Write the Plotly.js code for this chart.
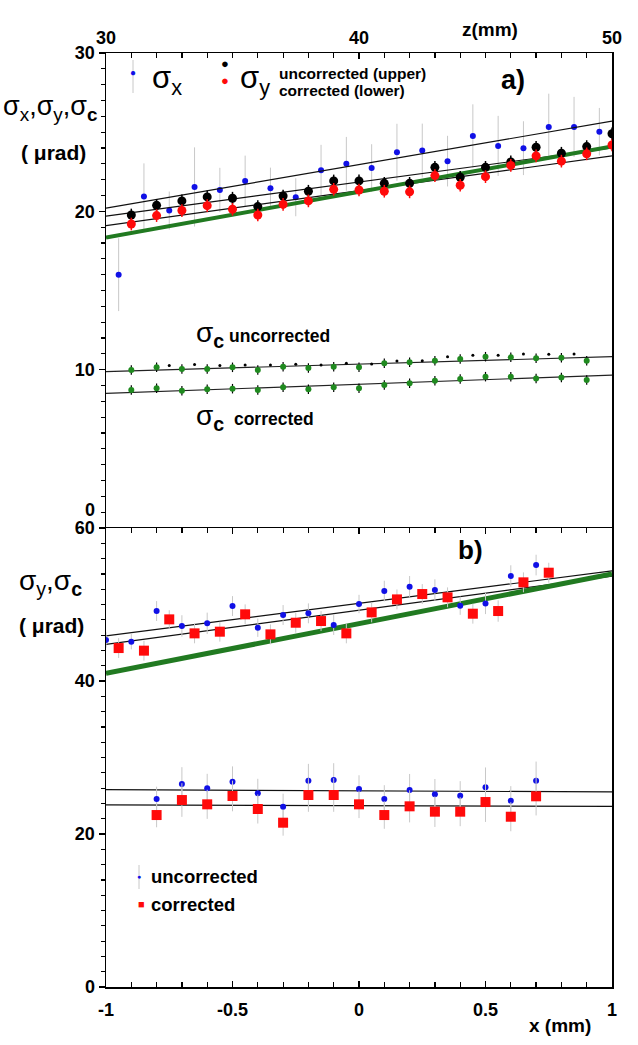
<!DOCTYPE html>
<html>
<head>
<meta charset="utf-8">
<script src="https://cdn.plot.ly/plotly-3.0.1.min.js"></script>
<style>html,body{margin:0;padding:0;background:#fff;}#chart{width:638px;height:1045px;}</style>
</head>
<body>
<div id="chart"></div>
<script>
// ---------- Panel a) : versus z (mm) ----------
const zSigmaX = [30.5,31.5,32.5,33.5,34.5,35.5,36.5,37.5,38.5,39.5,40.5,41.5,42.5,43.5,44.5,45.5,46.5,47.5,48.5,49.5];
const sigmaX = [16.0,20.93,20.05,21.54,21.35,21.92,21.46,20.89,22.6,23.0,22.74,23.73,23.84,23.17,24.76,24.13,23.99,25.33,25.33,25.03];
const sigmaXErr = [2.3,2.1,1.2,2.5,1.4,1.6,1.3,1.2,1.6,1.7,1.5,1.8,1.7,1.6,2.0,1.9,1.7,2.1,1.9,1.5];

const zSigmaY = [31,32,33,34,35,36,37,38,39,40,41,42,43,44,45,46,47,48,49,50];
const sigmaYUnc = [19.77,20.38,20.66,20.91,20.83,20.3,20.97,21.27,21.92,21.92,21.77,21.77,22.78,22.15,22.78,23.12,24.05,23.67,24.09,24.9];
const sigmaYCor = [19.2,19.73,20.05,20.36,20.13,19.77,20.44,20.66,21.39,21.35,21.27,21.23,22.26,21.65,22.19,22.9,23.5,23.17,23.63,24.19];
const sigmaYErr = [0.4,0.4,0.4,0.4,0.4,0.4,0.4,0.4,0.4,0.4,0.4,0.4,0.4,0.4,0.4,0.4,0.4,0.4,0.4,0.4];

const zSigmaC = [31,32,33,34,35,36,37,38,39,40,41,42,43,44,45,46,47,48,49];
const sigmaCUnc = [9.98,10.15,10.04,10.04,10.15,9.98,10.19,10.1,10.19,10.15,10.4,10.47,10.57,10.68,10.82,10.78,10.72,10.76,10.57];
const sigmaCCor = [8.72,8.82,8.67,8.76,8.8,8.72,8.89,8.76,8.89,8.82,9.03,9.14,9.3,9.41,9.56,9.56,9.45,9.5,9.35];
const sigmaCErr = [0.3,0.3,0.3,0.3,0.3,0.3,0.3,0.3,0.3,0.3,0.3,0.3,0.3,0.3,0.3,0.3,0.3,0.3,0.3];
const zDots = [32.5,33.5,34.5,35.5,36.5,37.5,38.5,39.5,40.5,41.5,42.5,43.5,44.5,45.5,46.5,47.5,48.5];
const sigmaCDots = [10.26,10.32,10.26,10.3,10.3,10.34,10.3,10.4,10.36,10.55,10.57,10.82,10.91,10.91,10.99,10.97,10.99];

const zFit = [30,50];
const fitSigmaX = [20.2,25.7];
const fitSigmaYUnc = [19.7,24.0];
const fitSigmaYCor = [19.1,23.5];
const fitGreenA = [18.35,24.1];
const fitSigmaCUnc = [9.88,10.82];
const fitSigmaCCor = [8.5,9.66];

// ---------- Panel b) : versus x (mm) ----------
const xUnc = [-1.0,-0.9,-0.8,-0.7,-0.6,-0.5,-0.4,-0.3,-0.2,-0.1,0,0.1,0.2,0.3,0.4,0.5,0.6,0.7];
const sigmaYUncB = [45.36,45.14,49.15,47.2,47.54,49.8,46.97,48.63,48.85,47.32,50.07,51.76,52.33,51.9,49.85,50.15,53.73,55.16];
const sigmaYUncBErr = [1.0,1.0,1.3,1.4,1.4,1.3,1.2,1.3,1.3,1.3,1.2,1.35,1.4,1.4,1.2,1.4,1.4,1.35];
const xCor = [-0.95,-0.85,-0.75,-0.65,-0.55,-0.45,-0.35,-0.25,-0.15,-0.05,0.05,0.15,0.25,0.35,0.45,0.55,0.65,0.75];
const sigmaYCorB = [44.31,43.97,48.06,46.23,46.45,48.72,46.1,47.62,47.84,46.23,48.97,50.67,51.37,50.94,48.8,49.15,52.9,54.16];
const sigmaYCorBErr = [1.3,1.3,1.2,1.3,1.3,1.3,1.3,1.3,1.3,1.3,1.3,1.3,1.3,1.3,1.3,1.4,1.3,1.3];

const xC = [-0.8,-0.7,-0.6,-0.5,-0.4,-0.3,-0.2,-0.1,0,0.1,0.2,0.3,0.4,0.5,0.6,0.7];
const sigmaCUncB = [24.58,26.54,25.97,26.84,25.32,23.57,26.97,27.06,25.88,24.58,25.75,25.19,25.01,26.1,24.36,26.97];
const sigmaCCorB = [22.48,24.44,23.88,24.97,23.27,21.48,25.1,25.1,23.88,22.48,23.62,22.92,22.92,24.18,22.26,24.93];
const sigmaCBErr = [1.6,2.2,1.9,2.0,1.9,1.7,2.2,2.2,1.8,1.8,2.1,2.0,1.9,2.6,1.9,2.5];

const xFit = [-1,1];
const fitYUncB = [45.9,54.4];
const fitYCorB = [44.8,53.7];
const fitGreenB = [41.0,54.0];
const fitCUncB = [25.8,25.5];
const fitCCorB = [23.8,23.6];

const xTickVals = [-1,-0.5,0,0.5,1];
const xTickText = ['-1','-0.5','0','0.5','1'];
const zTickVals = [30,40,50];
const yTopTickVals = [10,20,30];

// ---------- styles ----------
const FONT = 'Liberation Sans, Arial, sans-serif';
const BLUE = '#1010e6', RED = '#ff0a0a', GREEN = '#1f8a1f', DKGREEN = '#217a21', GRAY = '#c8c8c8';

function line(x, y, xa, ya, color, width) {
  return {x, y, xaxis: xa, yaxis: ya, mode: 'lines', type: 'scatter',
          line: {color, width}, hoverinfo: 'skip'};
}
function pts(x, y, err, xa, ya, color, size, symbol, errColor, errThick) {
  const t = {x, y, xaxis: xa, yaxis: ya, mode: 'markers', type: 'scatter',
             marker: {color, size, symbol: symbol || 'circle', line: {width: 0}}};
  if (err) t.error_y = {type: 'data', array: err, visible: true, color: errColor, thickness: errThick || 1, width: 0};
  return t;
}

const traces = [
  pts(zSigmaX, sigmaX, sigmaXErr, 'x2', 'y2', BLUE, 6, 'circle', GRAY, 1),
  line(zFit, fitSigmaX, 'x2', 'y2', '#111', 1.2),
  line(zFit, fitSigmaYUnc, 'x2', 'y2', '#111', 1.2),
  line(zFit, fitSigmaYCor, 'x2', 'y2', '#111', 1.2),
  line(zFit, fitGreenA, 'x2', 'y2', DKGREEN, 4),
  pts(zSigmaY, sigmaYUnc, sigmaYErr, 'x2', 'y2', '#000', 9, 'circle', '#000', 1.5),
  pts(zSigmaY, sigmaYCor, sigmaYErr, 'x2', 'y2', RED, 9, 'circle', RED, 1.5),
  line(zFit, fitSigmaCUnc, 'x2', 'y2', '#222', 1.2),
  line(zFit, fitSigmaCCor, 'x2', 'y2', '#222', 1.2),
  pts(zDots, sigmaCDots, null, 'x2', 'y2', '#000', 3),
  pts(zSigmaC, sigmaCUnc, sigmaCErr, 'x2', 'y2', GREEN, 6, 'circle', '#000', 1.2),
  pts(zSigmaC, sigmaCCor, sigmaCErr, 'x2', 'y2', GREEN, 6, 'circle', '#000', 1.2),
  line(xFit, fitYUncB, 'x', 'y', '#111', 1.2),
  line(xFit, fitYCorB, 'x', 'y', '#111', 1.2),
  line(xFit, fitGreenB, 'x', 'y', DKGREEN, 5),
  line(xFit, fitCUncB, 'x', 'y', '#111', 1.2),
  line(xFit, fitCCorB, 'x', 'y', '#111', 1.2),
  pts(xUnc, sigmaYUncB, sigmaYUncBErr, 'x', 'y', BLUE, 6, 'circle', GRAY, 1),
  pts(xCor, sigmaYCorB, sigmaYCorBErr, 'x', 'y', RED, 10, 'square', GRAY, 1),
  pts(xC, sigmaCUncB, sigmaCBErr, 'x', 'y', BLUE, 6, 'circle', GRAY, 1),
  pts(xC, sigmaCCorB, sigmaCBErr, 'x', 'y', RED, 10, 'square', GRAY, 1)
];

const tickFont = {family: FONT, size: 18, color: '#000', weight: 'bold'};
const axLine = {showline: true, linecolor: '#000', linewidth: 1.5, showgrid: false, zeroline: false};

const PLOT_L = 106, PLOT_W = 506, PLOT_T = 53, PLOT_H = 934;
function px(v) { return (v - PLOT_L) / PLOT_W; }
function py(v) { return (PLOT_T + PLOT_H - v) / PLOT_H; }

function ann(xp, yp, text, size, opts) {
  return Object.assign({xref: 'paper', yref: 'paper', x: px(xp), y: py(yp), text, showarrow: false,
    xanchor: 'left', yanchor: 'middle', font: {family: FONT, size, color: '#000'}}, opts || {});
}
const B = s => '<b>' + s + '</b>';
const SIG = (sub, s) => '<span style="font-size:' + s + 'px">σ<sub>' + sub + '</sub></span>';

const annotations = [
  ann(133, 72, '●', 10, {xanchor: 'center', font: {family: FONT, size: 10, color: BLUE}}),
  ann(150, 80, 'σ<sub>x</sub>', 31),
  ann(225, 64, '●', 13, {xanchor: 'center', font: {family: FONT, size: 13, color: '#000'}}),
  ann(225, 80, '●', 13, {xanchor: 'center', font: {family: FONT, size: 13, color: RED}}),
  ann(238, 80, 'σ<sub>y</sub>', 31),
  ann(277, 73, B('uncorrected (upper)'), 15.5),
  ann(277, 91, B('corrected (lower)'), 15.5),
  ann(513, 80, B('a)'), 27, {xanchor: 'center'}),
  ann(194, 334, SIG('<b>c</b>', 28) + ' ' + B('uncorrected'), 17.5),
  ann(194, 418, SIG('<b>c</b>', 28) + '  ' + B('corrected'), 17.5),
  ann(470, 550, B('b)'), 26, {xanchor: 'center'}),
  ann(139, 876, '●', 7, {xanchor: 'center', font: {family: FONT, size: 7, color: BLUE}}),
  ann(149, 876, B('uncorrected'), 18.5),
  ann(141, 904, '■', 11, {xanchor: 'center', font: {family: FONT, size: 11, color: RED}}),
  ann(149, 904, B('corrected'), 18.5),
  ann(50, 108, 'σ<sub>x</sub>,σ<sub>y</sub>,σ<sub><b>c</b></sub>', 27, {xanchor: 'center'}),
  ann(53, 152, B('( μrad)'), 21, {xanchor: 'center'}),
  ann(50, 582, 'σ<sub>y</sub>,σ<sub><b>c</b></sub>', 28, {xanchor: 'center'}),
  ann(51, 625, B('( μrad)'), 21, {xanchor: 'center'}),
  ann(490, 29, B('z(mm)'), 19, {xanchor: 'center'}),
  ann(560, 1025, B('x (mm)'), 19, {xanchor: 'center'}),
  {xref: 'paper', yref: 'y2', x: 0, y: 0, xanchor: 'right', yanchor: 'middle', xshift: -9, yshift: 18,
   text: B('0'), showarrow: false, font: tickFont}
];

const shapes = [
  {type: 'line', xref: 'paper', yref: 'paper', x0: px(133), x1: px(133), y0: py(60), y1: py(93), line: {color: GRAY, width: 1}, layer: 'below'},
  {type: 'line', xref: 'paper', yref: 'paper', x0: px(139), x1: px(139), y0: py(865), y1: py(889), line: {color: GRAY, width: 1}, layer: 'below'}
];

const layout = {
  width: 638, height: 1045,
  margin: {l: PLOT_L, r: 638 - PLOT_L - PLOT_W, t: PLOT_T, b: 1045 - PLOT_T - PLOT_H, pad: 0},
  paper_bgcolor: '#fff', plot_bgcolor: '#fff',
  showlegend: false,
  font: {family: FONT, color: '#000'},
  xaxis: Object.assign({}, axLine, {
    domain: [0, 1], anchor: 'y', range: [-1, 1], tickvals: xTickVals, ticktext: xTickText,
    ticks: 'inside', ticklen: 6, tickwidth: 1.5, tickcolor: '#000', mirror: 'ticks', tickfont: tickFont,
    ticklabelstandoff: 6,
    minor: {dtick: 0.1, tick0: 0, ticks: 'inside', ticklen: 5, tickwidth: 1.2, tickcolor: '#000'}
  }),
  yaxis: Object.assign({}, axLine, {
    domain: [0, 0.4914], anchor: 'x', range: [0, 60], dtick: 20, tick0: 0,
    ticks: 'outside', ticklen: 6, tickwidth: 1.5, tickcolor: '#000', mirror: true, tickfont: tickFont,
    minor: {dtick: 2, tick0: 0, ticks: 'outside', ticklen: 4, tickwidth: 1.2, tickcolor: '#000'}
  }),
  xaxis2: Object.assign({}, axLine, {
    domain: [0, 1], anchor: 'y2', side: 'top', range: [30, 50], tickvals: zTickVals,
    ticks: 'inside', ticklen: 6, tickwidth: 1.5, tickcolor: '#000', tickfont: tickFont,
    minor: {dtick: 1, tick0: 30, ticks: 'inside', ticklen: 5, tickwidth: 1.2, tickcolor: '#000'}
  }),
  yaxis2: Object.assign({}, axLine, {
    domain: [0.4914, 1], anchor: 'x2', range: [0, 30], tickvals: yTopTickVals,
    ticks: 'outside', ticklen: 6, tickwidth: 1.5, tickcolor: '#000', mirror: true, tickfont: tickFont,
    minor: {dtick: 1, tick0: 0, ticks: 'outside', ticklen: 4, tickwidth: 1.2, tickcolor: '#000'}
  }),
  annotations, shapes
};

Plotly.newPlot('chart', traces, layout, {staticPlot: true, displayModeBar: false});
</script>
</body>
</html>
